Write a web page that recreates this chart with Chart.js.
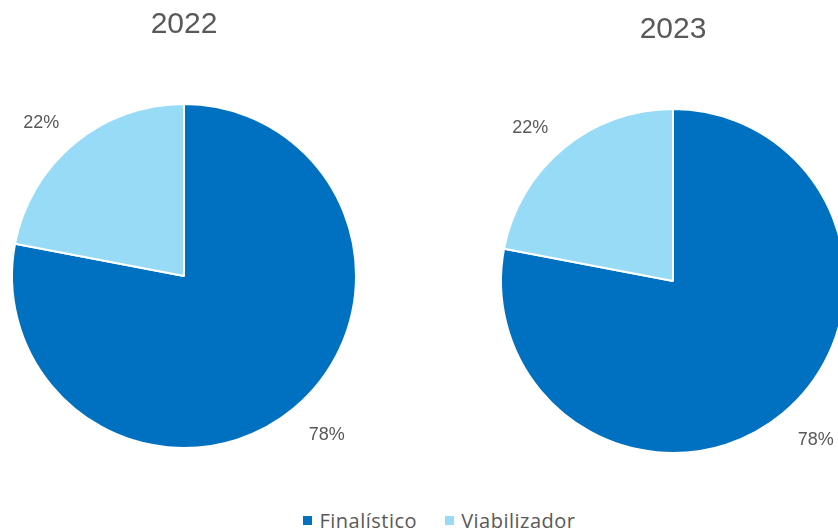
<!DOCTYPE html>
<html lang="pt"><head><meta charset="UTF-8"><title>Finalístico x Viabilizador</title>
<script src="https://cdn.jsdelivr.net/npm/chart.js"></script>
<style>
  html,body{margin:0;padding:0;background:#fff;width:838px;height:530px;overflow:hidden;position:relative;}
  .pie{position:absolute;width:368px;height:460px;}
  #p1{left:0;top:0;}
  #p2{left:489px;top:5px;}
  .legend{position:absolute;left:41px;right:0;top:507px;display:flex;justify-content:center;gap:28px;
          font-family:"Open Sans","Liberation Sans",sans-serif;font-size:20px;letter-spacing:0.5px;color:#595959;}
  .legend span{display:flex;align-items:center;}
  .legend i{display:inline-block;width:9px;height:9px;margin-right:7px;}
</style>
</head><body>
  <div class="pie" id="p1"><canvas id="c1"></canvas></div>
  <div class="pie" id="p2"><canvas id="c2"></canvas></div>
  <div class="legend" id="legend"></div>
<script>
const categories = ['Finalístico', 'Viabilizador'];
const years      = ['2022', '2023'];
const values2022 = [78, 22];
const values2023 = [78, 22];
const colors     = ['#0070C0', '#97DBF7'];

// percentage labels just outside each slice
const outsideLabels = {
  id: 'outsideLabels',
  afterDatasetsDraw(chart) {
    const ctx = chart.ctx;
    const data = chart.data.datasets[0].data;
    const total = data.reduce((a, b) => a + b, 0);
    const meta = chart.getDatasetMeta(0);
    ctx.save();
    ctx.font = '18px "Liberation Sans", Arial, sans-serif';
    ctx.fillStyle = '#595959';
    ctx.textAlign = 'center';
    ctx.textBaseline = 'middle';
    meta.data.forEach((arc, i) => {
      const mid = (arc.startAngle + arc.endAngle) / 2;
      const d = arc.outerRadius + 30;
      const cx = Math.cos(mid), cy = Math.sin(mid);
      const x = arc.x + cx * d + Math.sign(cx) * 14;
      const y = arc.y + cy * d + 3;
      ctx.fillText(Math.round(data[i] / total * 100) + '%', x, y);
    });
    ctx.restore();
  }
};

function makePie(id, year, values) {
  new Chart(document.getElementById(id), {
    type: 'pie',
    data: {
      labels: categories,
      datasets: [{ data: values, backgroundColor: colors, borderColor: '#fff', borderWidth: 2 }]
    },
    options: {
      responsive: true,
      maintainAspectRatio: false,
      animation: false,
      layout: { padding: { left: 11, right: 11, bottom: 11 } },
      plugins: {
        legend: { display: false },
        tooltip: { enabled: false },
        title: {
          display: true, text: year, color: '#595959',
          font: { family: '"Liberation Sans", Arial, sans-serif', size: 30, weight: 'normal' },
          padding: { top: 7, bottom: 60 }
        }
      }
    },
    plugins: [outsideLabels]
  });
}

makePie('c1', years[0], values2022);
makePie('c2', years[1], values2023);

const lg = document.getElementById('legend');
categories.forEach((c, i) => {
  lg.innerHTML += '<span><i style="background:' + colors[i] + '"></i>' + c + '</span>';
});
</script>
</body></html>
